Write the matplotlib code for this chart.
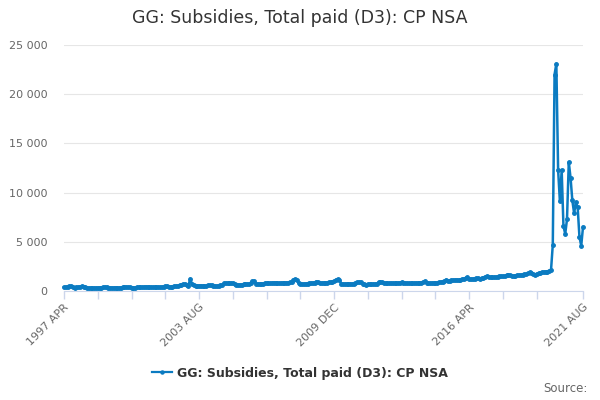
import matplotlib
matplotlib.use('Agg')
import matplotlib.pyplot as plt
from matplotlib.ticker import FuncFormatter
from matplotlib.lines import Line2D

TITLE = "GG: Subsidies, Total paid (D3): CP NSA"
START_YEAR, START_MONTH = 1997, 4
MONTHS = ['JAN', 'FEB', 'MAR', 'APR', 'MAY', 'JUN', 'JUL', 'AUG', 'SEP', 'OCT', 'NOV', 'DEC']

# monthly values, GBP m, 1997 APR .. 2021 AUG
values = [
    380, 400, 420, 480, 460, 380, 350, 360, 380, 450, 480, 420,
    380, 330, 300, 310, 320, 300, 310, 330, 320, 350, 380, 400,
    370, 350, 340, 330, 320, 350, 330, 320, 340, 380, 420, 400,
    380, 360, 350, 340, 330, 360, 380, 370, 360, 400, 450, 430,
    400, 380, 370, 390, 420, 400, 380, 400, 430, 460, 480, 450,
    420, 440, 470, 500, 520, 560, 620, 700, 680, 560, 520, 1250,
    700, 560, 540, 520, 530, 550, 520, 510, 530, 560, 580, 560,
    540, 520, 500, 520, 560, 620, 780, 800, 790, 820, 800, 780,
    700, 640, 620, 630, 650, 700, 720, 700, 720, 780, 1000, 980,
    760, 720, 700, 720, 760, 800, 820, 800, 780, 820, 860, 840,
    800, 780, 800, 830, 850, 840, 860, 880, 900, 1150, 1200, 1150,
    780, 720, 700, 720, 740, 760, 780, 800, 820, 850, 950, 920,
    840, 820, 830, 850, 860, 880, 900, 920, 1000, 1150, 1180, 1100,
    760, 720, 700, 710, 720, 740, 720, 760, 780, 880, 920, 900,
    720, 680, 660, 680, 700, 690, 700, 720, 740, 900, 920, 880,
    820, 800, 790, 800, 810, 800, 790, 800, 820, 850, 870, 860,
    820, 800, 780, 770, 790, 800, 820, 800, 830, 860, 900, 1000,
    820, 800, 790, 810, 830, 820, 860, 880, 900, 950, 1000, 1150,
    1000, 1050, 1100, 1080, 1120, 1150, 1100, 1150, 1200, 1250, 1300, 1400,
    1250, 1200, 1220, 1250, 1280, 1300, 1250, 1280, 1300, 1450, 1500, 1450,
    1400, 1380, 1400, 1420, 1450, 1480, 1500, 1480, 1520, 1600, 1650, 1600,
    1550, 1520, 1550, 1580, 1600, 1620, 1650, 1680, 1700, 1800, 1900, 1850,
    1700, 1650, 1750, 1800, 1850, 1900, 1920, 1950, 1980, 2050, 2100,
    4700, 22000, 23100, 12300, 9100, 12300, 6600, 5800, 7300, 13100, 11500,
    9200, 7900, 9000, 8500, 5500, 4600, 6500,
]

def month_label(i):
    m = START_MONTH - 1 + i
    return f"{START_YEAR + m // 12} {MONTHS[m % 12]}"

labels = [month_label(i) for i in range(len(values))]
x = list(range(len(values)))
last = len(values) - 1

tick_pos = list(range(0, 267, 19)) + [last]
label_pos = [0, 76, 152, 228, last]

BLUE = '#0b7bc1'
GRID = '#e6e6e6'
AXIS = '#ccd6eb'
TXT = '#666666'

fig = plt.figure(figsize=(6, 4), dpi=100, facecolor='white')
ax = fig.add_axes([64 / 600, 1 - 291 / 400, (583 - 64) / 600, (291 - 45) / 400])

ax.plot(x, values, color=BLUE, lw=1.8, marker='o', ms=2.5, zorder=3, clip_on=False)

ax.set_xlim(0, last)
ax.set_ylim(0, 25000)
ax.set_yticks(range(0, 25001, 5000))
ax.yaxis.set_major_formatter(FuncFormatter(lambda v, p: f"{int(v):,}".replace(',', ' ')))
ax.grid(axis='y', color=GRID, lw=0.8)
ax.set_axisbelow(True)

ax.set_xticks(tick_pos)
ax.set_xticklabels([labels[i] if i in label_pos else '' for i in tick_pos],
                   rotation=45, ha='right', rotation_mode='anchor')

for s in ['top', 'right', 'left']:
    ax.spines[s].set_visible(False)
ax.spines['bottom'].set_color(AXIS)
ax.tick_params(axis='x', colors=AXIS, length=6, width=1, labelcolor=TXT, labelsize=8, pad=2)
ax.tick_params(axis='y', length=0, labelcolor=TXT, labelsize=8, pad=12)

fig.text(0.5, 1 - 18 / 400, TITLE, ha='center', va='center', fontsize=12.5, color='#333333')

# legend
handle = Line2D([], [], color=BLUE, lw=1.6, marker='o', ms=2.2)
fig.legend([handle], [TITLE], loc='center', bbox_to_anchor=(0.5, 1 - 373 / 400),
           frameon=False, handlelength=1.6, handletextpad=0.4,
           prop={'weight': 'bold', 'size': 9}, labelcolor='#333333')

fig.text(588 / 600, 1 - 389 / 400, "Source:", ha='right', va='center', fontsize=8.5, color=TXT)

fig.savefig('out.png', dpi=100, facecolor='white')
